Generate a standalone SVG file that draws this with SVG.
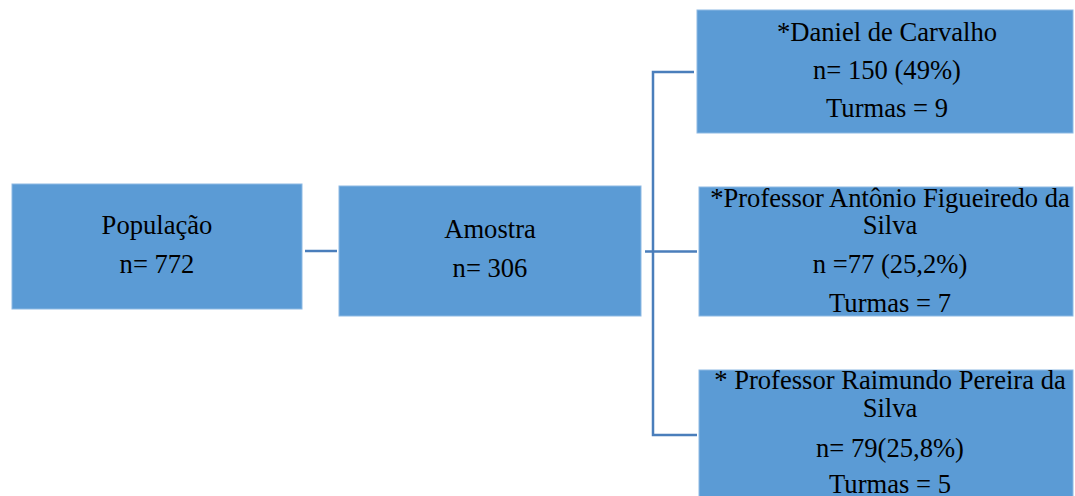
<svg xmlns="http://www.w3.org/2000/svg" width="1075" height="496" viewBox="0 0 1075 496">
<style>
.box{fill:#5b9bd5;stroke:#8db9e3;stroke-width:1}
.t{font-family:"Liberation Serif","Times New Roman",serif;font-size:26.6px;fill:#000;text-anchor:middle}
.c{fill:none;stroke:#4a7ebb;stroke-width:2.5}
</style>
<rect width="1075" height="496" fill="#ffffff"/>
<g id="connectors">
<line class="c" x1="305" y1="251" x2="337" y2="251"/>
<polyline class="c" points="694,72 653,72 653,435 697,435"/>
<line class="c" x1="645" y1="251.5" x2="697" y2="251.5"/>
</g>
<g id="populacao">
<rect class="box" x="12" y="184" width="290" height="125"/>
<text class="t" x="157" y="234">População</text>
<text class="t" x="157" y="273">n= 772</text>
</g>
<g id="amostra">
<rect class="box" x="339" y="186" width="302" height="130"/>
<text class="t" x="490" y="238">Amostra</text>
<text class="t" x="490" y="277">n= 306</text>
</g>
<g id="daniel">
<rect class="box" x="697" y="10" width="376" height="123"/>
<text class="t" x="887" y="41">*Daniel de Carvalho</text>
<text class="t" x="887" y="79">n= 150 (49%)</text>
<text class="t" x="887" y="117">Turmas = 9</text>
</g>
<g id="antonio">
<rect class="box" x="699" y="187" width="374" height="129"/>
<text class="t" x="890" y="207">*Professor Antônio Figueiredo da</text>
<text class="t" x="890" y="234">Silva</text>
<text class="t" x="890" y="273">n =77 (25,2%)</text>
<text class="t" x="890" y="312">Turmas = 7</text>
</g>
<g id="raimundo">
<rect class="box" x="699" y="370" width="374" height="130"/>
<text class="t" x="890" y="389">* Professor Raimundo Pereira da</text>
<text class="t" x="890" y="417">Silva</text>
<text class="t" x="890" y="457">n= 79(25,8%)</text>
<text class="t" x="890" y="493">Turmas = 5</text>
</g>
</svg>
